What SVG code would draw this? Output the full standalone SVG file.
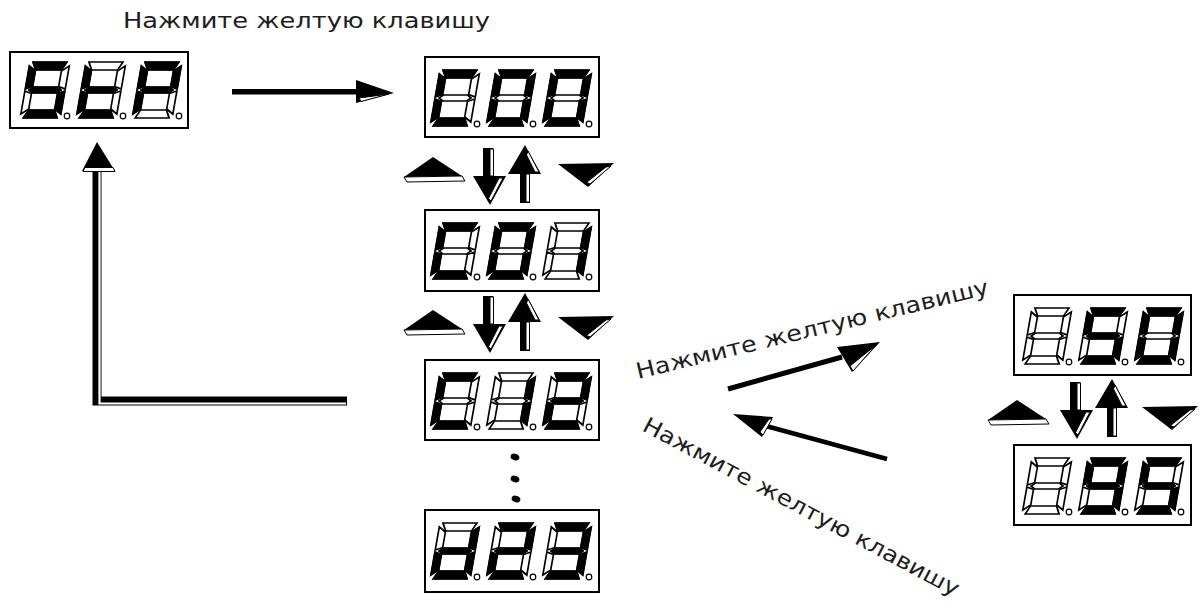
<svg xmlns="http://www.w3.org/2000/svg" width="1203" height="607" viewBox="0 0 1203 607">
<style>
.box{fill:none;stroke:#000;stroke-width:2}
.off{fill:#fff;stroke:#000;stroke-width:1.7}
.on{fill:#000;stroke:#000;stroke-width:1.2}
.dp{fill:#fff;stroke:#000;stroke-width:1.2}
.blk{fill:#000}
.hl{fill:#fff;stroke:#000;stroke-width:1}
.lbl{font-family:"DejaVu Sans","Open Sans",sans-serif;font-size:22px;fill:#1e1e1e}
</style>
<defs>
<path id="sa" d="M3,0 H37 L33,8 H7 Z"/>
<path id="sb" d="M40,4 V27 L33,24.5 V9 Z"/>
<path id="sc" d="M40,29 V52 L33,47 V31.5 Z"/>
<path id="sd" d="M3,56 H37 L33,48 H7 Z"/>
<path id="se" d="M0,29 L7,31.5 V47 L0,52 Z"/>
<path id="sf" d="M0,4 L7,9 V24.5 L0,27 Z"/>
<path id="sg" d="M4,28 L8,25 H32 L36,28 L32,31 H8 Z"/>
<g id="d8" class="off"><use href="#sa"/><use href="#sb"/><use href="#sc"/><use href="#sd"/><use href="#se"/><use href="#sf"/><use href="#sg"/></g>
<g id="ud-arrows">
<rect x="483" y="148" width="10" height="29" class="blk"/>
<rect x="490" y="149" width="3.5" height="27" class="hl"/>
<polygon points="473,176 506,176 490,205" class="blk"/>
<polygon points="503,178 491,201 488.5,198.5 499,178" class="hl"/>
<rect x="520" y="173" width="10" height="30" class="blk"/>
<rect x="526" y="174" width="3.5" height="28" class="hl"/>
<polygon points="525,145 508,174 541,174" class="blk"/>
<polygon points="528,151 539,172 535,172 526.5,155" class="hl"/>
</g>
<g id="ud-keys">
<polygon points="433,157 404,177 462,176" class="blk"/>
<polygon points="404,177 462,176 465,181 407,182" class="hl"/>
<polygon points="558,164 614,163 588,187" class="blk"/>
<polygon points="611,166 590,184 586.5,182.5 606,167" class="hl"/>
</g>
</defs>
<rect width="1203" height="607" fill="#fff"/>

<g id="label-top">
<text class="lbl" x="123" y="28" textLength="367" lengthAdjust="spacingAndGlyphs">Нажмите желтую клавишу</text>
</g>

<g id="disp-stp">
<rect x="10" y="52" width="178" height="76" class="box"/>
<g transform="translate(30,62) skewX(-10)"><use href="#d8"/><use href="#sa" class="on"/><use href="#sf" class="on"/><use href="#sg" class="on"/><use href="#sc" class="on"/><use href="#sd" class="on"/></g>
<g transform="translate(86,62) skewX(-10)"><use href="#d8"/><use href="#sf" class="on"/><use href="#se" class="on"/><use href="#sg" class="on"/><use href="#sd" class="on"/></g>
<g transform="translate(142,62) skewX(-10)"><use href="#d8"/><use href="#sa" class="on"/><use href="#sb" class="on"/><use href="#sf" class="on"/><use href="#sg" class="on"/><use href="#se" class="on"/></g>
<circle cx="67" cy="116" r="2.8" class="dp"/><circle cx="123" cy="116" r="2.8" class="dp"/><circle cx="179" cy="116" r="2.8" class="dp"/>
</g>

<g id="disp-c00">
<rect x="425" y="57" width="174" height="80" class="box"/>
<g transform="translate(440,70) skewX(-10)"><use href="#d8"/><use href="#sa" class="on"/><use href="#sf" class="on"/><use href="#se" class="on"/><use href="#sd" class="on"/></g>
<g transform="translate(496,70) skewX(-10)"><use href="#d8"/><use href="#sa" class="on"/><use href="#sb" class="on"/><use href="#sc" class="on"/><use href="#sd" class="on"/><use href="#se" class="on"/><use href="#sf" class="on"/></g>
<g transform="translate(552,70) skewX(-10)"><use href="#d8"/><use href="#sa" class="on"/><use href="#sb" class="on"/><use href="#sc" class="on"/><use href="#sd" class="on"/><use href="#se" class="on"/><use href="#sf" class="on"/></g>
<circle cx="477" cy="124" r="2.8" class="dp"/><circle cx="533" cy="124" r="2.8" class="dp"/><circle cx="589" cy="124" r="2.8" class="dp"/>
</g>

<g id="disp-c01">
<rect x="425" y="210" width="174" height="81" class="box"/>
<g transform="translate(440,223) skewX(-10)"><use href="#d8"/><use href="#sa" class="on"/><use href="#sf" class="on"/><use href="#se" class="on"/><use href="#sd" class="on"/></g>
<g transform="translate(496,223) skewX(-10)"><use href="#d8"/><use href="#sa" class="on"/><use href="#sb" class="on"/><use href="#sc" class="on"/><use href="#sd" class="on"/><use href="#se" class="on"/><use href="#sf" class="on"/></g>
<g transform="translate(552,223) skewX(-10)"><use href="#d8"/><use href="#sb" class="on"/><use href="#sc" class="on"/></g>
<circle cx="477" cy="277" r="2.8" class="dp"/><circle cx="533" cy="277" r="2.8" class="dp"/><circle cx="589" cy="277" r="2.8" class="dp"/>
</g>

<g id="disp-c12">
<rect x="425" y="360" width="174" height="80" class="box"/>
<g transform="translate(440,373) skewX(-10)"><use href="#d8"/><use href="#sa" class="on"/><use href="#sf" class="on"/><use href="#se" class="on"/><use href="#sd" class="on"/></g>
<g transform="translate(496,373) skewX(-10)"><use href="#d8"/><use href="#sb" class="on"/><use href="#sc" class="on"/></g>
<g transform="translate(552,373) skewX(-10)"><use href="#d8"/><use href="#sa" class="on"/><use href="#sb" class="on"/><use href="#sg" class="on"/><use href="#se" class="on"/><use href="#sd" class="on"/></g>
<circle cx="477" cy="427" r="2.8" class="dp"/><circle cx="533" cy="427" r="2.8" class="dp"/><circle cx="589" cy="427" r="2.8" class="dp"/>
</g>

<g id="disp-d23">
<rect x="425" y="510" width="174" height="82" class="box"/>
<g transform="translate(440,523) skewX(-10)"><use href="#d8"/><use href="#sb" class="on"/><use href="#sc" class="on"/><use href="#sd" class="on"/><use href="#se" class="on"/><use href="#sg" class="on"/></g>
<g transform="translate(496,523) skewX(-10)"><use href="#d8"/><use href="#sa" class="on"/><use href="#sb" class="on"/><use href="#sg" class="on"/><use href="#se" class="on"/><use href="#sd" class="on"/></g>
<g transform="translate(552,523) skewX(-10)"><use href="#d8"/><use href="#sa" class="on"/><use href="#sb" class="on"/><use href="#sg" class="on"/><use href="#sc" class="on"/><use href="#sd" class="on"/></g>
<circle cx="477" cy="577" r="2.8" class="dp"/><circle cx="533" cy="577" r="2.8" class="dp"/><circle cx="589" cy="577" r="2.8" class="dp"/>
</g>

<g id="disp-a50">
<rect x="1014" y="295" width="177" height="80" class="box"/>
<g transform="translate(1032,308) skewX(-10)"><use href="#d8"/></g>
<g transform="translate(1088,308) skewX(-10)"><use href="#d8"/><use href="#sa" class="on"/><use href="#sf" class="on"/><use href="#sg" class="on"/><use href="#sc" class="on"/><use href="#sd" class="on"/></g>
<g transform="translate(1144,308) skewX(-10)"><use href="#d8"/><use href="#sa" class="on"/><use href="#sb" class="on"/><use href="#sc" class="on"/><use href="#sd" class="on"/><use href="#se" class="on"/><use href="#sf" class="on"/></g>
<circle cx="1069" cy="362" r="2.8" class="dp"/><circle cx="1125" cy="362" r="2.8" class="dp"/><circle cx="1181" cy="362" r="2.8" class="dp"/>
</g>

<g id="disp-a95">
<rect x="1014" y="445" width="177" height="80" class="box"/>
<g transform="translate(1032,458) skewX(-10)"><use href="#d8"/></g>
<g transform="translate(1088,458) skewX(-10)"><use href="#d8"/><use href="#sa" class="on"/><use href="#sb" class="on"/><use href="#sc" class="on"/><use href="#sd" class="on"/><use href="#sf" class="on"/><use href="#sg" class="on"/></g>
<g transform="translate(1144,458) skewX(-10)"><use href="#d8"/><use href="#sa" class="on"/><use href="#sf" class="on"/><use href="#sg" class="on"/><use href="#sc" class="on"/><use href="#sd" class="on"/></g>
<circle cx="1069" cy="512" r="2.8" class="dp"/><circle cx="1125" cy="512" r="2.8" class="dp"/><circle cx="1181" cy="512" r="2.8" class="dp"/>
</g>

<g id="connectors">
<rect x="232" y="89" width="126" height="5.5" class="blk"/>
<polygon points="356,80 394,93 356,103" class="blk"/>
<polygon points="359,98 389,94 361,101.5" class="hl"/>
<path d="M347,401 H97 V170" fill="none" stroke="#000" stroke-width="9"/>
<path d="M346,403.5 H99.5 V171" fill="none" stroke="#fff" stroke-width="2.2"/>
<polygon points="97,142 82,171 115,171" class="blk"/>
<polygon points="85,167.5 113,167.5 115,171.5 83,171.5" class="hl"/>
<use href="#ud-arrows"/>
<use href="#ud-keys"/>
<use href="#ud-arrows" transform="translate(0,148)"/>
<use href="#ud-keys" transform="translate(0,153)"/>
<use href="#ud-arrows" transform="translate(587,234)"/>
<use href="#ud-keys" transform="translate(584,243)"/>
<ellipse cx="515" cy="457" rx="4.5" ry="3.2" transform="rotate(20 515 457)" class="blk"/>
<ellipse cx="515" cy="479" rx="4.5" ry="3.2" transform="rotate(20 515 479)" class="blk"/>
<ellipse cx="516" cy="499" rx="4.5" ry="3.2" transform="rotate(20 516 499)" class="blk"/>
<line x1="728" y1="389" x2="842" y2="357" stroke="#000" stroke-width="5"/>
<polygon points="880,342 837,347 852,372" class="blk"/>
<polygon points="876,345 853,371 850,366" class="hl"/>
<line x1="887" y1="459" x2="766" y2="426" stroke="#000" stroke-width="4.5"/>
<polygon points="733,414 773,417 762,437" class="blk"/>
<polygon points="772,419 763,435 760,432 769,419" class="hl"/>
</g>

<g id="label-upper">
<text class="lbl" transform="translate(638,379) rotate(-13.6)" textLength="362" lengthAdjust="spacingAndGlyphs">Нажмите желтую клавишу</text>
</g>
<g id="label-lower">
<text class="lbl" transform="translate(641,430) rotate(28)" textLength="355" lengthAdjust="spacingAndGlyphs">Нажмите желтую клавишу</text>
</g>
</svg>
